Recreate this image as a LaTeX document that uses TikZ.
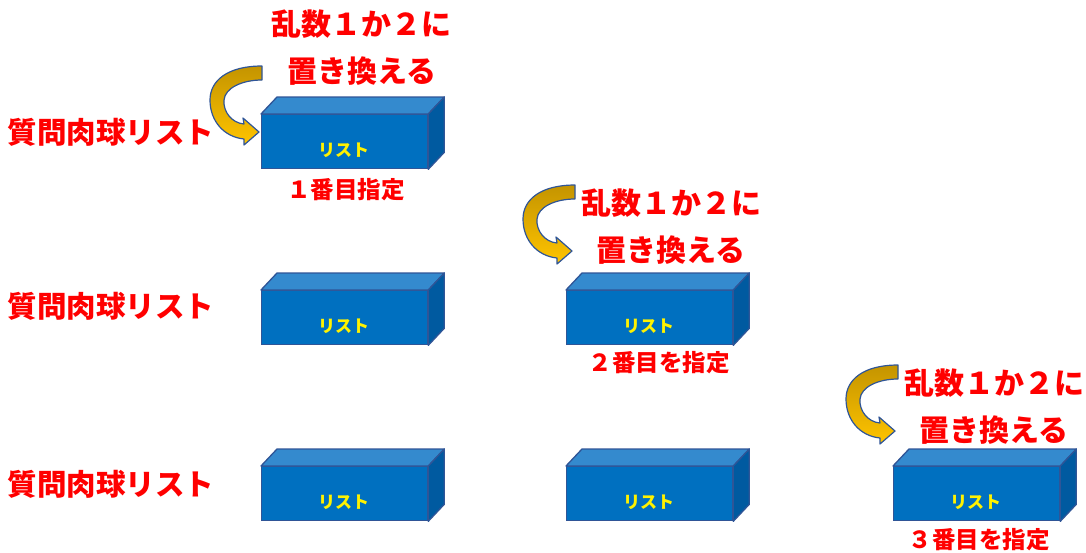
\documentclass[tikz,border=0pt]{standalone}
\usepackage{fontspec}
\newfontfamily\jp{Noto Sans CJK JP Black}
\begin{document}
\begin{tikzpicture}[x=1pt,y=-1pt,
  every node/.style={font=\jp},
  boxfront/.style={draw=boxline,line width=1.3pt,fill=boxfront,minimum width=166pt,minimum height=54pt,inner sep=0pt},
  boxtext/.style={text=yellow,font=\jp\fontsize{17}{19}\selectfont,inner sep=0pt},
  boxtop/.style={draw=boxline,line width=1.3pt,fill=boxtop,line join=round},
  boxside/.style={draw=boxline,line width=1.3pt,fill=boxside,line join=round},
  redbig/.style={text=red,font=\jp\fontsize{30}{34}\selectfont,inner sep=0pt},
  redsmall/.style={text=red,font=\jp\fontsize{23.5}{26}\selectfont,inner sep=0pt},
  rowlabel/.style={text=red,font=\jp\fontsize{29.5}{32}\selectfont,inner sep=0pt},
  curlarrow/.style={draw=arrline,line width=1.2pt,line join=round,top color=arrdark,bottom color=arrlight}
]
\definecolor{boxfront}{RGB}{0,112,192}
\definecolor{boxtop}{RGB}{52,138,206}
\definecolor{boxside}{RGB}{0,90,160}
\definecolor{boxline}{RGB}{47,85,151}
\definecolor{arrline}{RGB}{47,85,151}
\definecolor{arrdark}{RGB}{196,148,0}
\definecolor{arrlight}{RGB}{255,196,0}
\useasboundingbox (0,0) rectangle (1086,552);

\newcommand\mybox[3]{%
  \node[boxfront,anchor=north west] (#1) at (#2,#3) {};
  \draw[boxtop] (#1.north west) -- ++(16,-17) -- ++(166,0) -- ([xshift=16pt,yshift=17pt]#1.north east) -- (#1.north east) -- cycle;
  \draw[boxside] (#1.north east) -- ++(16,-17) -- ([xshift=16pt,yshift=17pt]#1.south east) -- (#1.south east) -- cycle;
  \node[boxtext] (#1t) at ([xshift=-1pt,yshift=-9pt]#1.center) {リスト};
}
\newcommand\curl[2]{%
  \begin{scope}[shift={(#1,#2)}]
  \draw[curlarrow] (0,0) .. controls (-35,0) and (-52,15) .. (-52,34)
     .. controls (-52,55) and (-38,71) .. (-18,73) -- (-18,79) -- (-3,66) -- (-19,52) -- (-18,58)
     .. controls (-30,57) and (-39,46) .. (-38,34)
     .. controls (-37,22) and (-20,14) .. (0,14) -- cycle;
  \end{scope}
}

% row 1
\node[rowlabel] (r1) at (111,132) {質問肉球リスト};
\mybox{b11}{261}{114}
\node[redsmall] (l1) at (346,190) {１番目指定};
\node[redbig] (h1a) at (361,24) {乱数１か２に};
\node[redbig] (h1b) at (362,71) {置き換える};
\curl{262}{66}

% row 2
\node[rowlabel] (r2) at (111,306) {質問肉球リスト};
\mybox{b21}{261}{290}
\mybox{b22}{566}{290}
\node[redsmall] (l2) at (659,363) {２番目を指定};
\node[redbig] (h2a) at (671,203) {乱数１か２に};
\node[redbig] (h2b) at (671,250) {置き換える};
\curl{575}{185}

% row 3
\node[rowlabel] (r3) at (111,484) {質問肉球リスト};
\mybox{b31}{261}{466}
\mybox{b32}{566}{466}
\mybox{b33}{893}{466}
\node[redsmall] (l3) at (979,540) {３番目を指定};
\node[redbig] (h3a) at (994,383) {乱数１か２に};
\node[redbig] (h3b) at (994,430) {置き換える};
\curl{898}{365}
\end{tikzpicture}
\end{document}
